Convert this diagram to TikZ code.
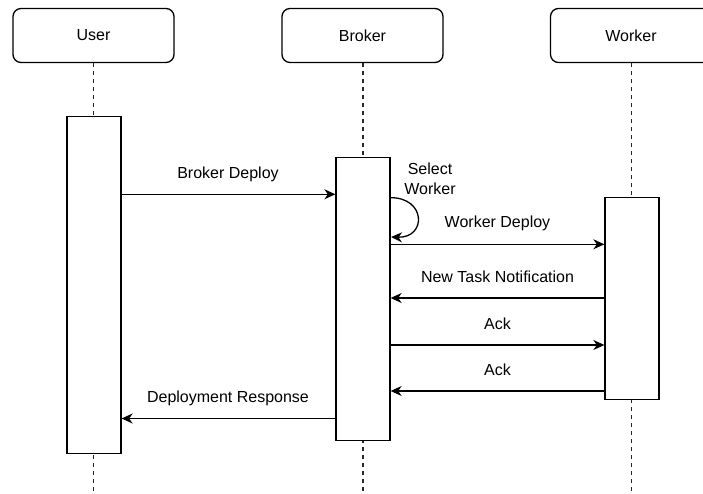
\documentclass[tikz,border=0pt]{standalone}
\usepackage{fontspec}
\setmainfont{Liberation Sans}
\usetikzlibrary{arrows.meta}
\begin{document}
\begin{tikzpicture}[x=1pt,y=-1pt,
  head/.style={draw, line width=1.3pt, rounded corners=8pt, minimum width=161pt, minimum height=54pt, inner sep=0pt, font=\fontsize{16}{19}\selectfont},
  act/.style={draw, fill=white, line width=1.3pt, minimum width=54pt, inner sep=0pt, anchor=north},
  life/.style={line width=1.3pt, dash pattern=on 4pt off 4pt, draw=black!85},
  msg/.style={line width=1.3pt, -{Stealth[length=11pt, width=10pt, inset=3.5pt]}},
  lbl/.style={anchor=base, inner sep=0pt, font=\fontsize{16}{19}\selectfont}]
\useasboundingbox (0,0) rectangle (703,494);
% headers
\node[head] (user) at (93.5,35.5) {User};
\node[head] (broker) at (362.5,35.5) {Broker};
\node[head] (worker) at (631,35.5) {Worker};
% lifelines
\coordinate (ue) at (93.5,494);
\coordinate (be) at (363,494);
\coordinate (we) at (631.5,494);
\draw[life] (user.south) -- (ue);
\draw[life] (broker.south -| be) -- (be);
\draw[life] (worker.south -| we) -- (we);
% activations
\node[act, minimum height=337pt] (uact) at (94,116) {};
\node[act, minimum height=283pt] (bact) at (363,157) {};
\node[act, minimum height=202pt] (wact) at (632,197) {};
% messages
\draw[msg] (uact.east |- 0,194.3) -- (bact.west |- 0,194.3);
\node[lbl] (l1) at (228,179) {Broker Deploy};
\coordinate (s1) at (390,197.7);
\coordinate (s2) at (391,237);
\draw[msg] (s1) .. controls (426,197) and (427,238) .. (s2);
\node[inner sep=0pt, align=center, font=\fontsize{16}{20.5}\selectfont] (l2) at (430,179) {Select\\Worker};
\draw[msg] (bact.east |- 0,244.3) -- (wact.west |- 0,244.3);
\node[lbl] (l3) at (497.5,228) {Worker Deploy};
\draw[msg] (wact.west |- 0,298) -- (bact.east |- 0,298);
\node[lbl] (l4) at (497.5,282) {New Task Notification};
\draw[msg] (bact.east |- 0,345) -- (wact.west |- 0,345);
\node[lbl] (l5) at (497.5,329) {Ack};
\draw[msg] (wact.west |- 0,391) -- (bact.east |- 0,391);
\node[lbl] (l6) at (497.5,375) {Ack};
\draw[msg] (bact.west |- 0,418.5) -- (uact.east |- 0,418.5);
\node[lbl] (l7) at (228,402) {Deployment Response};
\end{tikzpicture}
\end{document}
